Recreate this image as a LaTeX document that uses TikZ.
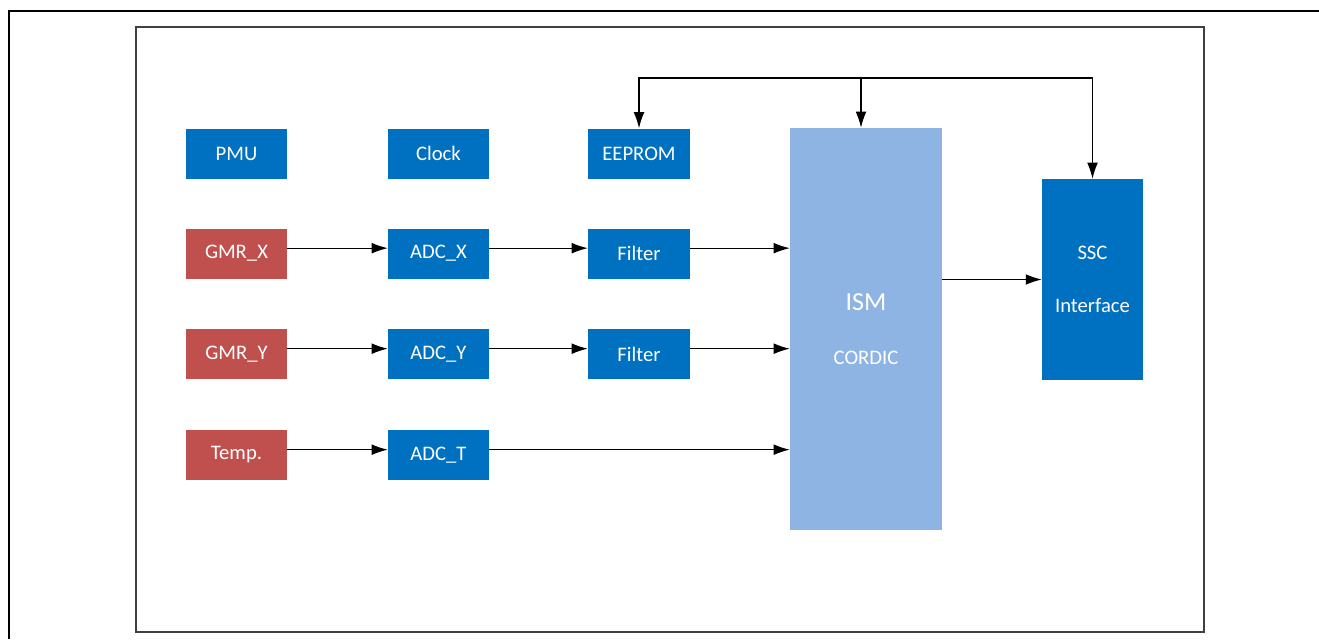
\documentclass[tikz,border=0pt]{standalone}
\usepackage{fontspec}
\setmainfont{Carlito}
\usetikzlibrary{arrows.meta}
\definecolor{blkblue}{HTML}{0070C0}
\definecolor{blkred}{HTML}{C0504D}
\definecolor{ismblue}{HTML}{8EB4E3}

\begin{document}
\begin{tikzpicture}[x=0.75pt, y=-0.75pt,
        blk/.style={rectangle, fill=blkblue, text=white, inner sep=0pt, minimum width=75.75pt, minimum height=37.5pt, font=\fontsize{15.5}{18}\selectfont},
        sens/.style={blk, fill=blkred},
        arr/.style={-{Latex[length=12pt, width=8pt]}, line width=0.8pt}]
        \useasboundingbox (0,0) rectangle (1319,639);
        \draw[line width=1.6pt] (9,639) -- (9,11) -- (1319,11);
        \draw[line width=1.2pt, black!75] (136,27) rectangle (1204,632);

        \node[blk] (pmu) at (236.5, 153.5) {PMU};
        \node[blk] (clk) at (438.5, 153.5) {Clock};
        \node[blk, minimum width=76.5pt] (eeprom) at (639, 153.5) {EEPROM};

        \node[sens] (gmrx) at (236.5, 253.5) {GMR\_X};
        \node[blk] (adcx) at (438.5, 253.5) {ADC\_X};
        \node[blk, minimum width=76.5pt] (filtx) at (639, 253.5) {Filter};

        \node[sens] (gmry) at (236.5, 354) {GMR\_Y};
        \node[blk] (adcy) at (438.5, 354) {ADC\_Y};
        \node[blk, minimum width=76.5pt] (filty) at (639, 354) {Filter};

        \node[sens] (temp) at (236.5, 455) {Temp.};
        \node[blk] (adct) at (438.5, 455) {ADC\_T};

        \node[blk, fill=ismblue, minimum width=114pt, minimum height=301.5pt, align=center] (ism) at (866, 329)
            {{\fontsize{19.5}{24}\selectfont ISM}\\[23pt]CORDIC};
        \node[blk, minimum height=150.75pt, align=center] (ssc) at (1092.5, 279.5) {SSC\\[22pt]Interface};

        \coordinate (bus) at (861, 78);

        \draw[arr] ([yshift=4pt]gmrx.east) -- ([yshift=4pt]adcx.west);
        \draw[arr] ([yshift=4pt]adcx.east) -- ([yshift=4pt]filtx.west);
        \draw[arr] ([yshift=4pt]filtx.east) -- ([yshift=4pt]filtx.east -| ism.west);
        \draw[arr] ([yshift=4pt]gmry.east) -- ([yshift=4pt]adcy.west);
        \draw[arr] ([yshift=4pt]adcy.east) -- ([yshift=4pt]filty.west);
        \draw[arr] ([yshift=4pt]filty.east) -- ([yshift=4pt]filty.east -| ism.west);
        \draw[arr] ([yshift=4pt]temp.east) -- ([yshift=4pt]adct.west);
        \draw[arr] ([yshift=4pt]adct.east) -- ([yshift=4pt]adct.east -| ism.west);
        \draw[arr] (ism.east |- ssc.west) -- (ssc.west);
        \draw[arr] (bus) -| (eeprom.north);
        \draw[arr] (bus) -| (ssc.north);
        \draw[arr] (bus) -- (bus |- ism.north);
\end{tikzpicture}
\end{document}
